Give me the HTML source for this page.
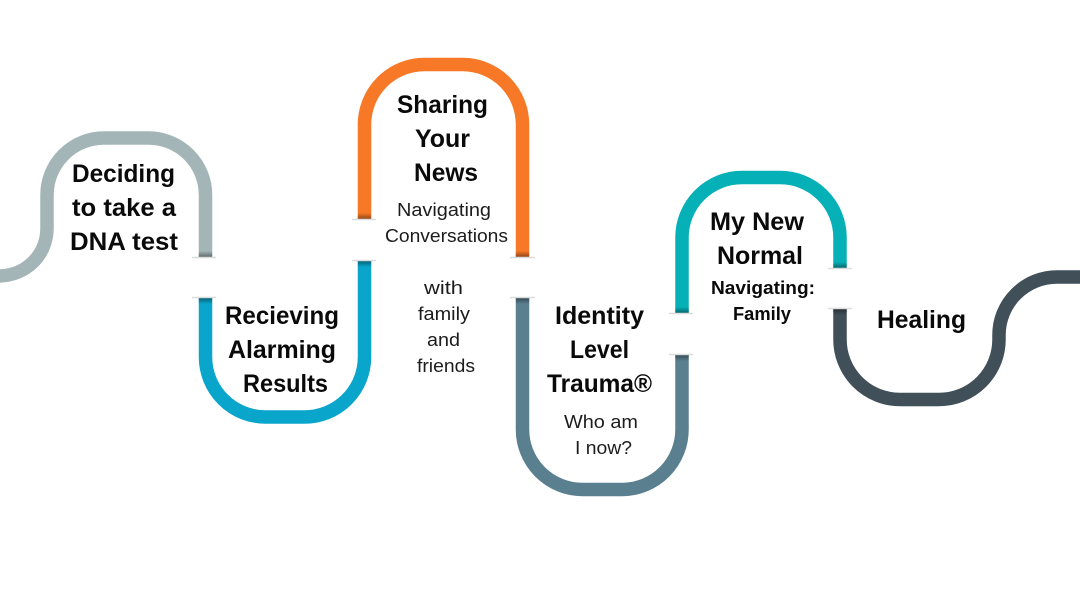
<!DOCTYPE html>
<html><head><meta charset="utf-8"><style>
html,body{margin:0;padding:0;background:#fff;width:1080px;height:607px;overflow:hidden}
svg{display:block}
text{font-family:"Liberation Sans",sans-serif;fill:#0a0a0a}
.h{font-size:25px;font-weight:bold}
.s{font-size:18px;fill:#1c1c1c}
.b{font-size:18px;font-weight:bold}
</style></head><body>
<svg width="1080" height="607" viewBox="0 0 1080 607" xmlns="http://www.w3.org/2000/svg">
<defs>
<linearGradient id="fb" x1="0" y1="0" x2="0" y2="1"><stop offset="0" stop-color="#000" stop-opacity="0"/><stop offset="1" stop-color="#000" stop-opacity=".42"/></linearGradient>
<linearGradient id="ft" x1="0" y1="0" x2="0" y2="1"><stop offset="0" stop-color="#000" stop-opacity=".42"/><stop offset="1" stop-color="#000" stop-opacity="0"/></linearGradient>
</defs>
<rect width="1080" height="607" fill="#fff"/>
<g fill="none" stroke-width="13.5">
<path stroke="#a3b5b7" d="M-2 276 C26 276 47 255 47 228 V195 A57 57 0 0 1 104 138 H148 A57 57 0 0 1 205.500 195 V257"/>
<path stroke="#0aa5cb" d="M205.500 298 V357 A60 60 0 0 0 265.500 417 H304.500 A60 60 0 0 0 364.500 357 V261"/>
<path stroke="#f77826" d="M364.500 219 V125 A60 60 0 0 1 424.500 64.500 H462.500 A60 60 0 0 1 522.500 125 V257"/>
<path stroke="#5a7f8f" d="M522.500 298 V429 A60 60 0 0 0 582.500 489.500 H622 A60 60 0 0 0 682 429 V355"/>
<path stroke="#06b0b7" d="M682 313 V237 A60 60 0 0 1 742 177.500 H780 A60 60 0 0 1 840 237 V268"/>
<path stroke="#414f59" d="M840 309 V339 A60 60 0 0 0 900 399.500 H939 A60 60 0 0 0 999 339 V335 A58 58 0 0 1 1057 277 H1082"/>
</g>
<!-- shaded ends -->
<g>
<rect x="198.750" y="251" width="13.500" height="6" fill="url(#fb)"/>
<rect x="198.750" y="298" width="13.500" height="6" fill="url(#ft)"/>
<rect x="357.750" y="213" width="13.500" height="6" fill="url(#fb)"/>
<rect x="357.750" y="261" width="13.500" height="6" fill="url(#ft)"/>
<rect x="515.750" y="251" width="13.500" height="6" fill="url(#fb)"/>
<rect x="515.750" y="298" width="13.500" height="6" fill="url(#ft)"/>
<rect x="675.250" y="307" width="13.500" height="6" fill="url(#fb)"/>
<rect x="675.250" y="355" width="13.500" height="6" fill="url(#ft)"/>
<rect x="833.250" y="262" width="13.500" height="6" fill="url(#fb)"/>
<rect x="833.250" y="309" width="13.500" height="6" fill="url(#ft)"/>
</g>
<!-- ticks -->
<g stroke="#d9dcdc" stroke-width="1.500">
<path d="M192 257.500H216M192 297.500H216M352 219.500H376M352 260.500H376M510 257.500H535M510 297.500H535M669 313.500H693M669 354.500H693M828 268.500H852M828 308.500H852"/>
</g>
<g>
<text class="h" x="72" y="182" textLength="103" lengthAdjust="spacingAndGlyphs">Deciding</text>
<text class="h" x="72" y="216" textLength="104" lengthAdjust="spacingAndGlyphs">to take a</text>
<text class="h" x="70" y="250" textLength="108" lengthAdjust="spacingAndGlyphs">DNA test</text>

<text class="h" x="225" y="324" textLength="114" lengthAdjust="spacingAndGlyphs">Recieving</text>
<text class="h" x="228" y="358" textLength="108" lengthAdjust="spacingAndGlyphs">Alarming</text>
<text class="h" x="243" y="392" textLength="85" lengthAdjust="spacingAndGlyphs">Results</text>

<text class="h" x="397" y="113" textLength="91" lengthAdjust="spacingAndGlyphs">Sharing</text>
<text class="h" x="415" y="147" textLength="55" lengthAdjust="spacingAndGlyphs">Your</text>
<text class="h" x="414" y="181" textLength="64" lengthAdjust="spacingAndGlyphs">News</text>
<text class="s" x="397" y="216" textLength="94" lengthAdjust="spacingAndGlyphs">Navigating</text>
<text class="s" x="385" y="242" textLength="123" lengthAdjust="spacingAndGlyphs">Conversations</text>
<text class="s" x="424" y="294" textLength="39" lengthAdjust="spacingAndGlyphs">with</text>
<text class="s" x="418" y="320" textLength="52" lengthAdjust="spacingAndGlyphs">family</text>
<text class="s" x="427" y="346" textLength="33" lengthAdjust="spacingAndGlyphs">and</text>
<text class="s" x="417" y="372" textLength="58" lengthAdjust="spacingAndGlyphs">friends</text>

<text class="h" x="555" y="324" textLength="89" lengthAdjust="spacingAndGlyphs">Identity</text>
<text class="h" x="570" y="358" textLength="59" lengthAdjust="spacingAndGlyphs">Level</text>
<text class="h" x="547" y="392" textLength="105" lengthAdjust="spacingAndGlyphs">Trauma®</text>
<text class="s" x="564" y="428" textLength="74" lengthAdjust="spacingAndGlyphs">Who am</text>
<text class="s" x="575" y="454" textLength="57" lengthAdjust="spacingAndGlyphs">I now?</text>

<text class="h" x="710" y="230" textLength="94" lengthAdjust="spacingAndGlyphs">My New</text>
<text class="h" x="717" y="264" textLength="86" lengthAdjust="spacingAndGlyphs">Normal</text>
<text class="b" x="711" y="294" textLength="104" lengthAdjust="spacingAndGlyphs">Navigating:</text>
<text class="b" x="733" y="320" textLength="58" lengthAdjust="spacingAndGlyphs">Family</text>

<text class="h" x="877" y="328" textLength="89" lengthAdjust="spacingAndGlyphs">Healing</text>
</g>
</svg>
</body></html>
